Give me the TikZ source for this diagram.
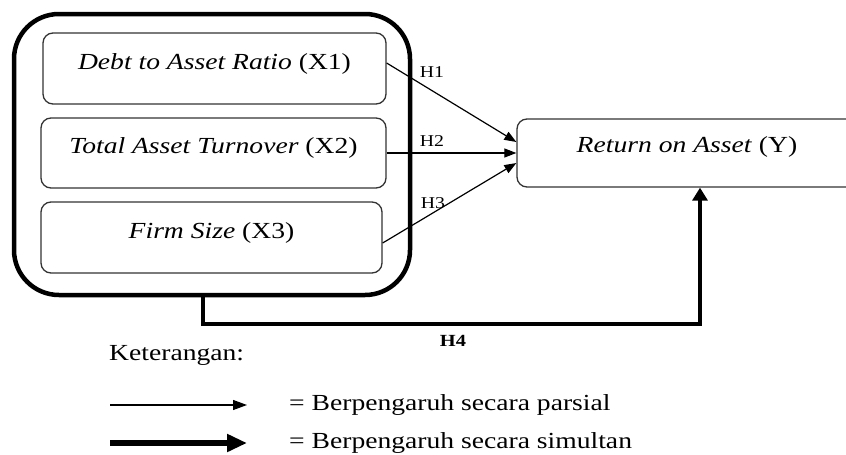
\documentclass[tikz,border=0pt]{standalone}
\usepackage{fontspec}
\setmainfont{Liberation Serif}[FakeStretch=1.2]
\usetikzlibrary{arrows.meta}
\begin{document}
\begin{tikzpicture}[x=1pt,y=-1pt,
  varbox/.style={draw=black!80, line width=1.3pt, rounded corners=10pt, inner sep=0pt,
    font=\fontsize{23}{26}\selectfont, text height=14pt, text depth=13pt},
  groupbox/.style={draw=black, line width=4.5pt, rounded corners=45pt, inner sep=0pt},
  hlabel/.style={inner sep=0pt, font=\fontsize{16.5}{19}\selectfont},
  legtext/.style={inner sep=0pt, anchor=west, font=\fontsize{23}{26}\selectfont},
  partial/.style={draw=black, line width=1.2pt, -{Triangle[length=12pt,width=9pt]}},
  simult/.style={draw=black, line width=4pt, -{Triangle[length=13pt,width=15pt]}}
]
\useasboundingbox (0,0) rectangle (846,455);
\clip (0,0) rectangle (846,455);

% outer group
\node[groupbox, minimum width=396pt, minimum height=281pt] (grp) at (212,154.5) {};

% variable boxes
\node[varbox, minimum width=343pt, minimum height=71pt] (b1) at (214.5,68.5)
  {\textit{Debt to Asset Ratio} (X1)};
\node[varbox, minimum width=345pt, minimum height=70pt] (b2) at (213.5,153)
  {\textit{Total Asset Turnover} (X2)};
\node[varbox, minimum width=341pt, minimum height=71pt] (b3) at (211.5,237.5)
  {\textit{Firm Size} (X3)};

% dependent variable
\node[varbox, minimum width=340pt, minimum height=68pt, text height=13pt, text depth=15pt] (y) at (687,153)
  {\textit{Return on Asset} (Y)};

% partial arrows
\draw[partial] ([yshift=5.5pt]b1.east) -- ([yshift=11pt]y.west);
\draw[partial] (b2.east) -- (y.west);
\draw[partial] ([yshift=-5.5pt]b3.east) -- ([yshift=-10pt]y.west);

% simultaneous arrow
\draw[simult, line join=miter] ([xshift=-9pt]grp.south) -- ++(0,27) -| ([xshift=13pt]y.south);

% hypothesis labels
\node[hlabel] (h1) at (432,72) {H1};
\node[hlabel] (h2) at (432,141) {H2};
\node[hlabel] (h3) at (433,203) {H3};
\node[hlabel, font=\fontsize{17}{19}\selectfont\bfseries] (h4) at (453,341) {H4};

% legend
\node[legtext] (ket) at (109,355) {Keterangan:};
\coordinate (la1) at (110,405);
\coordinate (la2) at (247,405);
\coordinate (lb1) at (110,443);
\coordinate (lb2) at (247,443);
\draw[partial, -{Triangle[length=14pt,width=10pt]}] (la1) -- (la2);
\draw[draw=black, line width=6.5pt, -{Triangle[length=20pt,width=17pt]}] (lb1) -- (lb2);
\node[legtext] (lt1) at (289,405) {= Berpengaruh secara parsial};
\node[legtext] (lt2) at (289,443) {= Berpengaruh secara simultan};
\end{tikzpicture}
\end{document}
